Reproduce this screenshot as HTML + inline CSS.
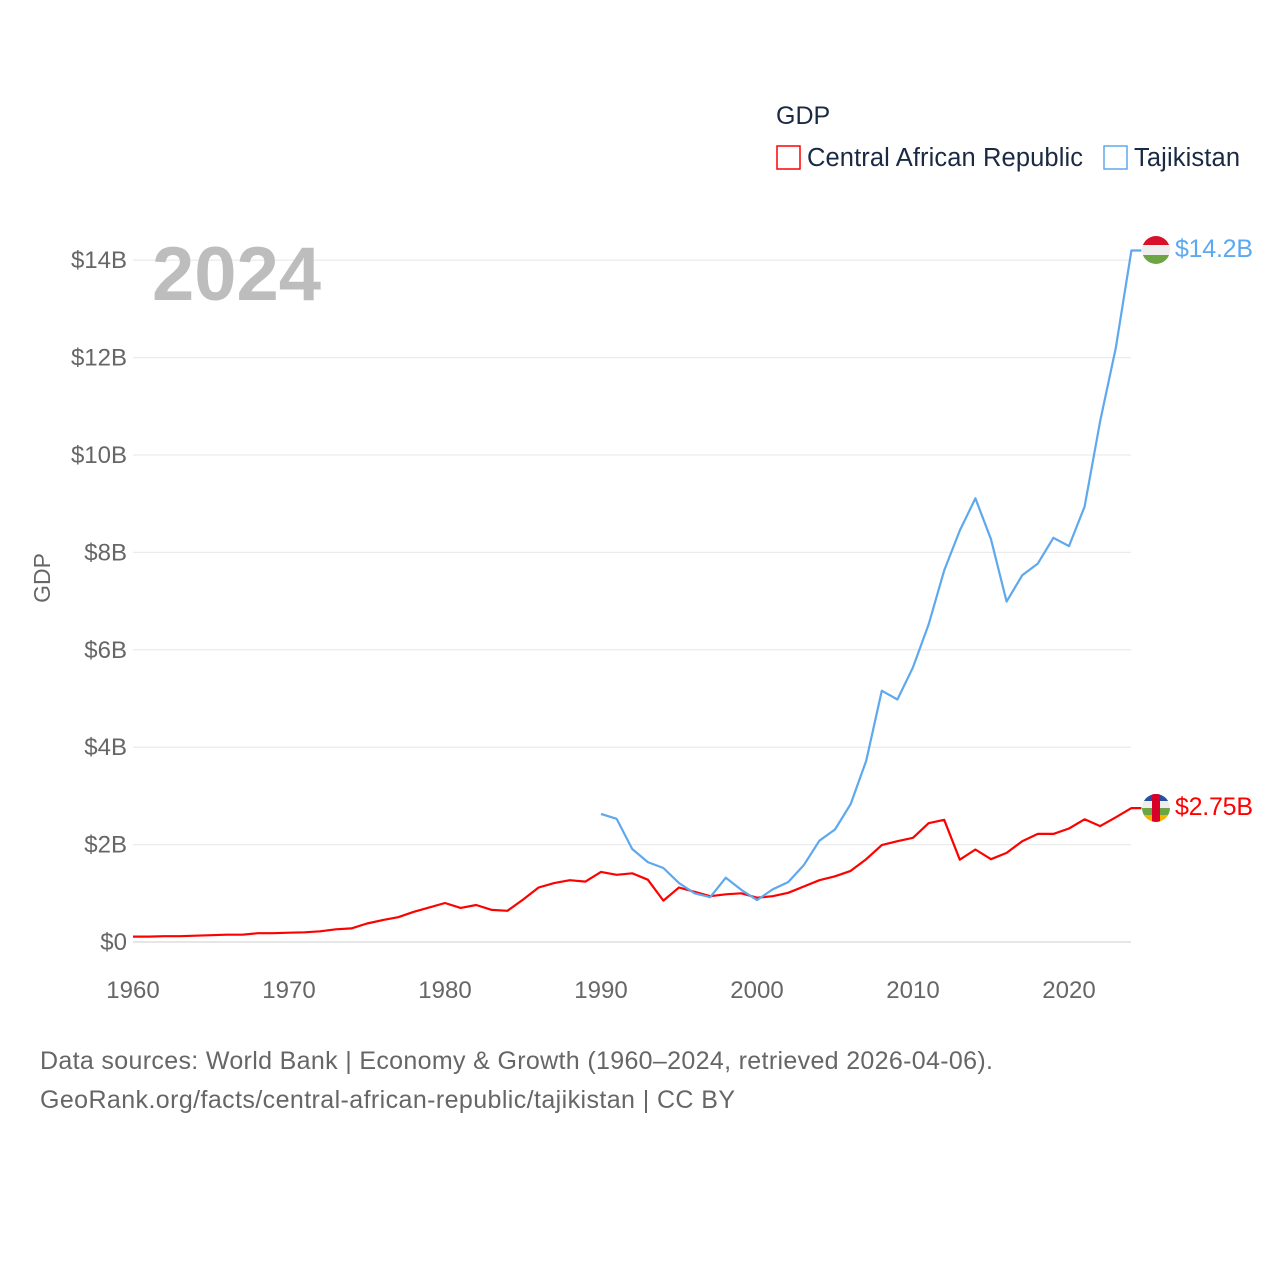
<!DOCTYPE html>
<html><head><meta charset="utf-8"><style>
body{margin:0;background:#fff;font-family:"Liberation Sans",sans-serif}
</style></head><body>
<svg width="1280" height="1280" xmlns="http://www.w3.org/2000/svg" font-family="Liberation Sans, sans-serif">
<rect width="1280" height="1280" fill="#fff"/>
<g id="grid"></g>
<g id="yticks"></g>
<g id="xticks"></g>
<text x="152" y="300" font-size="76" font-weight="bold" fill="#bdbdbd">2024</text>
<text x="50" y="578" font-size="23" fill="#666" transform="rotate(-90 50 578)" text-anchor="middle">GDP</text>
<g>
<text x="776" y="124" font-size="25" fill="#1a2a44">GDP</text>
<g><rect x="777" y="146" width="23" height="23" fill="none" stroke="#f00" stroke-width="1.5"/><text x="807" y="166" font-size="25.5" fill="#1a2a44" textLength="276">Central African Republic</text></g>
<g><rect x="1104" y="146" width="23" height="23" fill="none" stroke="#5ea8ee" stroke-width="1.5"/><text x="1134" y="166" font-size="25.5" fill="#1a2a44" textLength="106">Tajikistan</text></g>
</g>
<g id="series"></g>
<g>
<clipPath id="c1"><circle cx="1156" cy="250" r="14"/></clipPath>
<g clip-path="url(#c1)"><rect x="1142" y="236" width="28" height="9" fill="#d8102a"/><rect x="1142" y="245" width="28" height="10" fill="#eee"/><rect x="1142" y="255" width="28" height="9" fill="#6da544"/></g></g>
<g>
<clipPath id="c2"><circle cx="1156" cy="808" r="14"/></clipPath>
<g clip-path="url(#c2)"><rect x="1142" y="794" width="28" height="7" fill="#2a4fa0"/><rect x="1142" y="801" width="28" height="7" fill="#eee"/><rect x="1142" y="808" width="28" height="7" fill="#6da544"/><rect x="1142" y="815" width="28" height="7" fill="#f4b400"/><rect x="1152" y="794" width="8" height="28" fill="#d80027"/></g></g>
<text x="1175" y="257" font-size="25" fill="#5ea8ee" textLength="78">$14.2B</text>
<text x="1175" y="815" font-size="25" fill="#f00" textLength="78">$2.75B</text>
<text x="40" y="1069" font-size="25" fill="#666" textLength="953">Data sources: World Bank | Economy &amp; Growth (1960–2024, retrieved 2026-04-06).</text>
<text x="40" y="1108" font-size="25" fill="#666" textLength="695">GeoRank.org/facts/central-african-republic/tajikistan | CC BY</text>
</svg>
<script>
const yTicks=[0,2,4,6,8,10,12,14];
const xTicks=[1960,1970,1980,1990,2000,2010,2020];
const carStart=1960;
const carValues=[.11,.11,.12,.12,.13,.14,.15,.15,.18,.18,.19,.20,.22,.26,.28,.38,.45,.51,.62,.71,.80,.70,.76,.66,.64,.87,1.12,1.21,1.27,1.24,1.44,1.38,1.41,1.28,.85,1.12,1.03,.94,.98,1.0,.91,.94,1.01,1.14,1.27,1.35,1.46,1.70,1.99,2.07,2.14,2.44,2.51,1.69,1.90,1.70,1.83,2.07,2.22,2.22,2.33,2.52,2.38,2.56,2.75];
const tjkStart=1990;
const tjkValues=[2.63,2.53,1.91,1.64,1.52,1.21,1.0,.92,1.32,1.07,.86,1.08,1.23,1.58,2.08,2.31,2.83,3.72,5.16,4.98,5.64,6.52,7.63,8.45,9.11,8.27,6.99,7.53,7.77,8.3,8.13,8.94,10.7,12.2,14.2];
const NS="http://www.w3.org/2000/svg";
const X=y=>133+(y-1960)*15.6;
const Y=v=>942-v*48.7;
function mk(t,a,p){const e=document.createElementNS(NS,t);for(const k in a)e.setAttribute(k,a[k]);p.appendChild(e);return e;}
const g=document.getElementById('grid'),yt=document.getElementById('yticks'),xt=document.getElementById('xticks'),s=document.getElementById('series');
yTicks.forEach(v=>{
 const l=mk('line',{x1:133,x2:1131,y1:Y(v),y2:Y(v),stroke:v===0?'#e6e6e6':'#ececec','stroke-width':v===0?2:1.3},g);
 
 
 const t=mk('text',{x:127,y:Y(v)+8,'text-anchor':'end','font-size':24,fill:'#666'},yt);
 t.textContent='$'+v+(v?'B':'');
 
 
});
xTicks.forEach(y=>{
 const t=mk('text',{x:X(y),y:998,'text-anchor':'middle','font-size':24,fill:'#666'},xt);
 t.textContent=y;
 
 
});
function line(vals,start,color,name){
 const pts=vals.map((v,i)=>X(start+i).toFixed(1)+','+Y(v).toFixed(1));
 const last=vals[vals.length-1];
 pts.push((X(start+vals.length-1)+10)+','+Y(last).toFixed(1));
 const p=mk('polyline',{points:pts.join(' '),fill:'none',stroke:color,'stroke-width':2.2,'stroke-linejoin':'round'},s);
 
 
}
line(carValues,carStart,'#f00','car-line');
line(tjkValues,tjkStart,'#5ea8ee','tajikistan-line');
</script>
</body></html>
